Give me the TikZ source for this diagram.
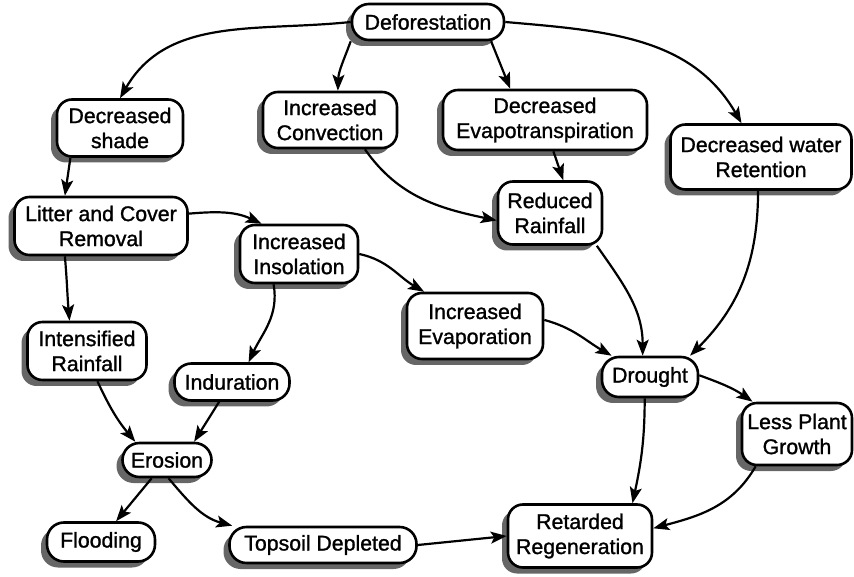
\documentclass[tikz,border=0pt]{standalone}
\usepackage{fontspec}
\setmainfont{Liberation Sans}[BoldFont=Liberation Sans, BoldFeatures={FakeBold=1.2}]
\usetikzlibrary{shadows,arrows.meta}
\begin{document}
\begin{tikzpicture}[x=1pt,y=1pt,
  box/.style={draw, line width=2.6pt, fill=white, rounded corners=15pt, align=center, inner sep=0pt,
    font=\fontsize{21.3}{25}\selectfont\bfseries,
    drop shadow={shadow xshift=-6pt,shadow yshift=-6pt,fill=black!60,opacity=1}},
  pill/.style={box, rounded corners=17pt},
  arr/.style={line width=2.2pt, -{Stealth[length=16pt,width=12pt,inset=3.5pt]}}]
\useasboundingbox (0,0) rectangle (854,576);
\node[pill, minimum width=152pt, minimum height=36pt] (def) at (428,554) {Deforestation};
\node[box, minimum width=126pt, minimum height=57pt] (ds) at (120,448) {Decreased\\shade};
\node[box, minimum width=134pt, minimum height=56pt] (ic) at (330,456) {Increased\\Convection};
\node[box, minimum width=204pt, minimum height=60pt] (de) at (545,456) {Decreased\\Evapotranspiration};
\node[box, minimum width=181pt, minimum height=65pt] (dwr) at (761,419) {Decreased water\\Retention};
\node[box, minimum width=173pt, minimum height=58pt] (lcr) at (101,350) {Litter and Cover\\Removal};
\node[box, minimum width=118pt, minimum height=58pt] (ii) at (299,322) {Increased\\Insolation};
\node[box, minimum width=104pt, minimum height=63pt] (rr) at (550,363) {Reduced\\Rainfall};
\node[box, minimum width=119pt, minimum height=58pt] (ir) at (87,225) {Intensified\\Rainfall};
\node[pill, minimum width=115pt, minimum height=37pt] (ind) at (232,194) {Induration};
\node[box, minimum width=136pt, minimum height=66pt] (ev) at (475,250) {Increased\\Evaporation};
\node[pill, minimum width=96pt, minimum height=40pt] (dr) at (650,199) {Drought};
\node[box, minimum width=110pt, minimum height=62pt] (lpg) at (797,142) {Less Plant\\Growth};
\node[pill, minimum width=89pt, minimum height=34pt] (er) at (167,116) {Erosion};
\node[pill, minimum width=108pt, minimum height=39pt] (fl) at (101,34) {Flooding};
\node[pill, minimum width=187pt, minimum height=36pt] (ts) at (323,31) {Topsoil Depleted};
\node[box, minimum width=144pt, minimum height=63pt] (reg) at (580,40) {Retarded\\Regeneration};

\draw[arr] (def.west) to[out=186,in=60] (ds.north);
\draw[arr] (def.194) to[out=250,in=88] (ic.75);
\draw[arr] (def.343) -- (de.138);
\draw[arr] (def.east) to[out=-5,in=120] (dwr.120);
\draw[arr] (ds.211) -- (lcr.140);
\draw[arr] (ic.320) to[out=-55,in=168] (rr.188);
\draw[arr] (de.285) -- (rr.68);
\draw[arr] (lcr.8) to[out=5,in=155] (ii.141);
\draw[arr] (lcr.220) to[out=-85,in=95] (ir.120);
\draw[arr] (ii.east) to[out=-12,in=150] (ev.146);
\draw[arr] (ii.230) to[out=-80,in=65] (ind.50);
\draw[arr] (ir.289) to[out=-65,in=130] (er.150);
\draw[arr] (ind.237) -- (er.34);
\draw[arr] (er.230) -- (fl.54);
\draw[arr] (er.275) to[out=-50,in=165] (ts.168);
\draw[arr] (ts.east) -- (reg.west);
\draw[arr] (rr.325) to[out=-55,in=90] (dr.109);
\draw[arr] (dwr.265) to[out=-90,in=45] (dr.28);
\draw[arr] (ev.5) to[out=-15,in=150] (dr.151);
\draw[arr] (dr.2) to[out=-20,in=145] (lpg.144);
\draw[arr] (dr.256) to[out=-90,in=78] (reg.32);
\draw[arr] (lpg.218) to[out=-120,in=15] (reg.6);
\end{tikzpicture}
\end{document}
